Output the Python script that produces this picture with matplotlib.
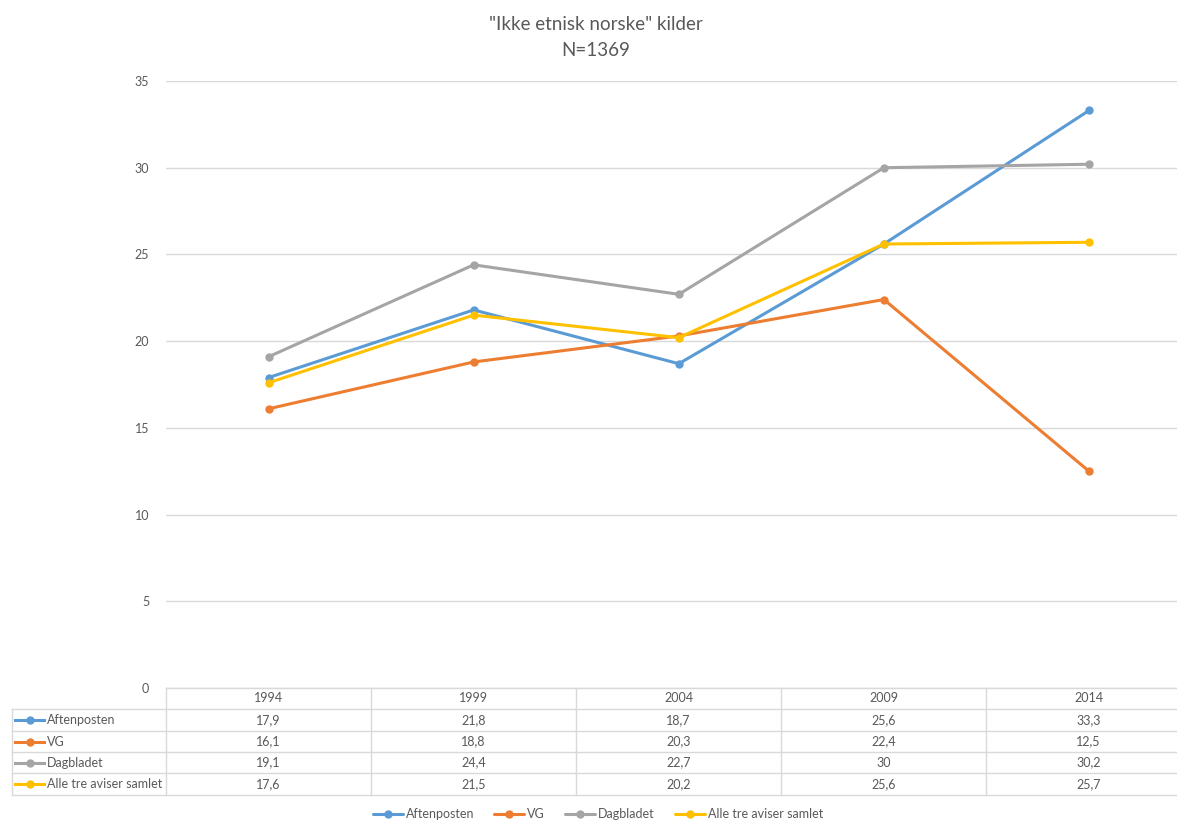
import matplotlib
matplotlib.use("Agg")
import matplotlib.pyplot as plt
from matplotlib.lines import Line2D

years = ["1994", "1999", "2004", "2009", "2014"]
series_names = ["Aftenposten", "VG", "Dagbladet", "Alle tre aviser samlet"]
aftenposten = [17.9, 21.8, 18.7, 25.6, 33.3]
vg = [16.1, 18.8, 20.3, 22.4, 12.5]
dagbladet = [19.1, 24.4, 22.7, 30, 30.2]
alle_tre = [17.6, 21.5, 20.2, 25.6, 25.7]
yticks = [0, 5, 10, 15, 20, 25, 30, 35]

series = [aftenposten, vg, dagbladet, alle_tre]
colors = ["#5B9BD5", "#ED7D31", "#A5A5A5", "#FFC000"]

plt.rcParams['font.family'] = ['Lato', 'DejaVu Sans']

W, H = 1177, 821
fig = plt.figure(figsize=(W / 100, H / 100), dpi=100)

def fx(x):
    return x / W

def fy(y):
    return 1 - y / H

# axes: left 166, right 1177, top 81 (35), bottom 688 (0)
ax = fig.add_axes([fx(166), fy(688), fx(1177) - fx(166), fy(81) - fy(688)])
xs = list(range(len(years)))
lines = []
for vals, c, name in zip(series, colors, series_names):
    ln, = ax.plot(xs, vals, color=c, lw=2.2, marker='o', ms=5, label=name,
                  solid_capstyle='round', zorder=3)
    lines.append(ln)

ax.set_xlim(-0.5, 4.429)
ax.set_ylim(0, 35)
ax.set_yticks(yticks)
ax.set_xticks([])
ax.grid(axis='y', color='#d9d9d9', lw=1)
ax.set_axisbelow(True)
for s in ax.spines.values():
    s.set_visible(False)
ax.tick_params(axis='y', length=0, pad=12, labelsize=9, labelcolor='#595959')

# Title
fig.text(fx(596), fy(25), '"Ikke etnisk norske" kilder', ha='center', va='center',
         fontsize=13.5, color='#595959')
fig.text(fx(596), fy(50), 'N=1369', ha='center', va='center',
         fontsize=13.5, color='#595959')

# Data table
gcol = '#d9d9d9'
col_edges = [166, 371, 576, 781, 986, 1191]
row_edges = [688, 709, 731, 752, 773, 795]
label_left = 12

def hline(x0, x1, y):
    fig.add_artist(Line2D([fx(x0), fx(x1)], [fy(y), fy(y)], color=gcol, lw=1,
                          transform=fig.transFigure))

def vline(x, y0, y1):
    fig.add_artist(Line2D([fx(x), fx(x)], [fy(y0), fy(y1)], color=gcol, lw=1,
                          transform=fig.transFigure))

hline(col_edges[0], col_edges[-1], row_edges[0])
for y in row_edges[1:]:
    hline(label_left, col_edges[-1], y)
for x in col_edges:
    vline(x, row_edges[0], row_edges[-1])
vline(label_left, row_edges[1], row_edges[-1])

for i, yr in enumerate(years):
    cx = (col_edges[i] + col_edges[i + 1]) / 2
    cy = (row_edges[0] + row_edges[1]) / 2
    fig.text(fx(cx), fy(cy), yr, ha='center', va='center', fontsize=9, color='#595959')

for r, (vals, c, name) in enumerate(zip(series, colors, series_names)):
    cy = (row_edges[r + 1] + row_edges[r + 2]) / 2
    fig.add_artist(Line2D([fx(15), fx(44)], [fy(cy), fy(cy)], color=c, lw=2.2,
                          transform=fig.transFigure))
    fig.add_artist(Line2D([fx(29.5)], [fy(cy)], color=c, marker='o', ms=5,
                          transform=fig.transFigure))
    fig.text(fx(47), fy(cy), name, ha='left', va='center', fontsize=9, color='#595959')
    for i, v in enumerate(vals):
        cx = (col_edges[i] + col_edges[i + 1]) / 2
        txt = ('%g' % v).replace('.', ',')
        fig.text(fx(cx), fy(cy), txt, ha='center', va='center', fontsize=9,
                 color='#595959')

# Bottom legend
leg = fig.legend(handles=lines, loc='center', bbox_to_anchor=(fx(598), fy(814)),
                 ncol=4, frameon=False, fontsize=9, handlelength=2.4,
                 handletextpad=0.25, columnspacing=1.6, labelcolor='#595959')

fig.savefig('out.png', dpi=100, facecolor='white')
